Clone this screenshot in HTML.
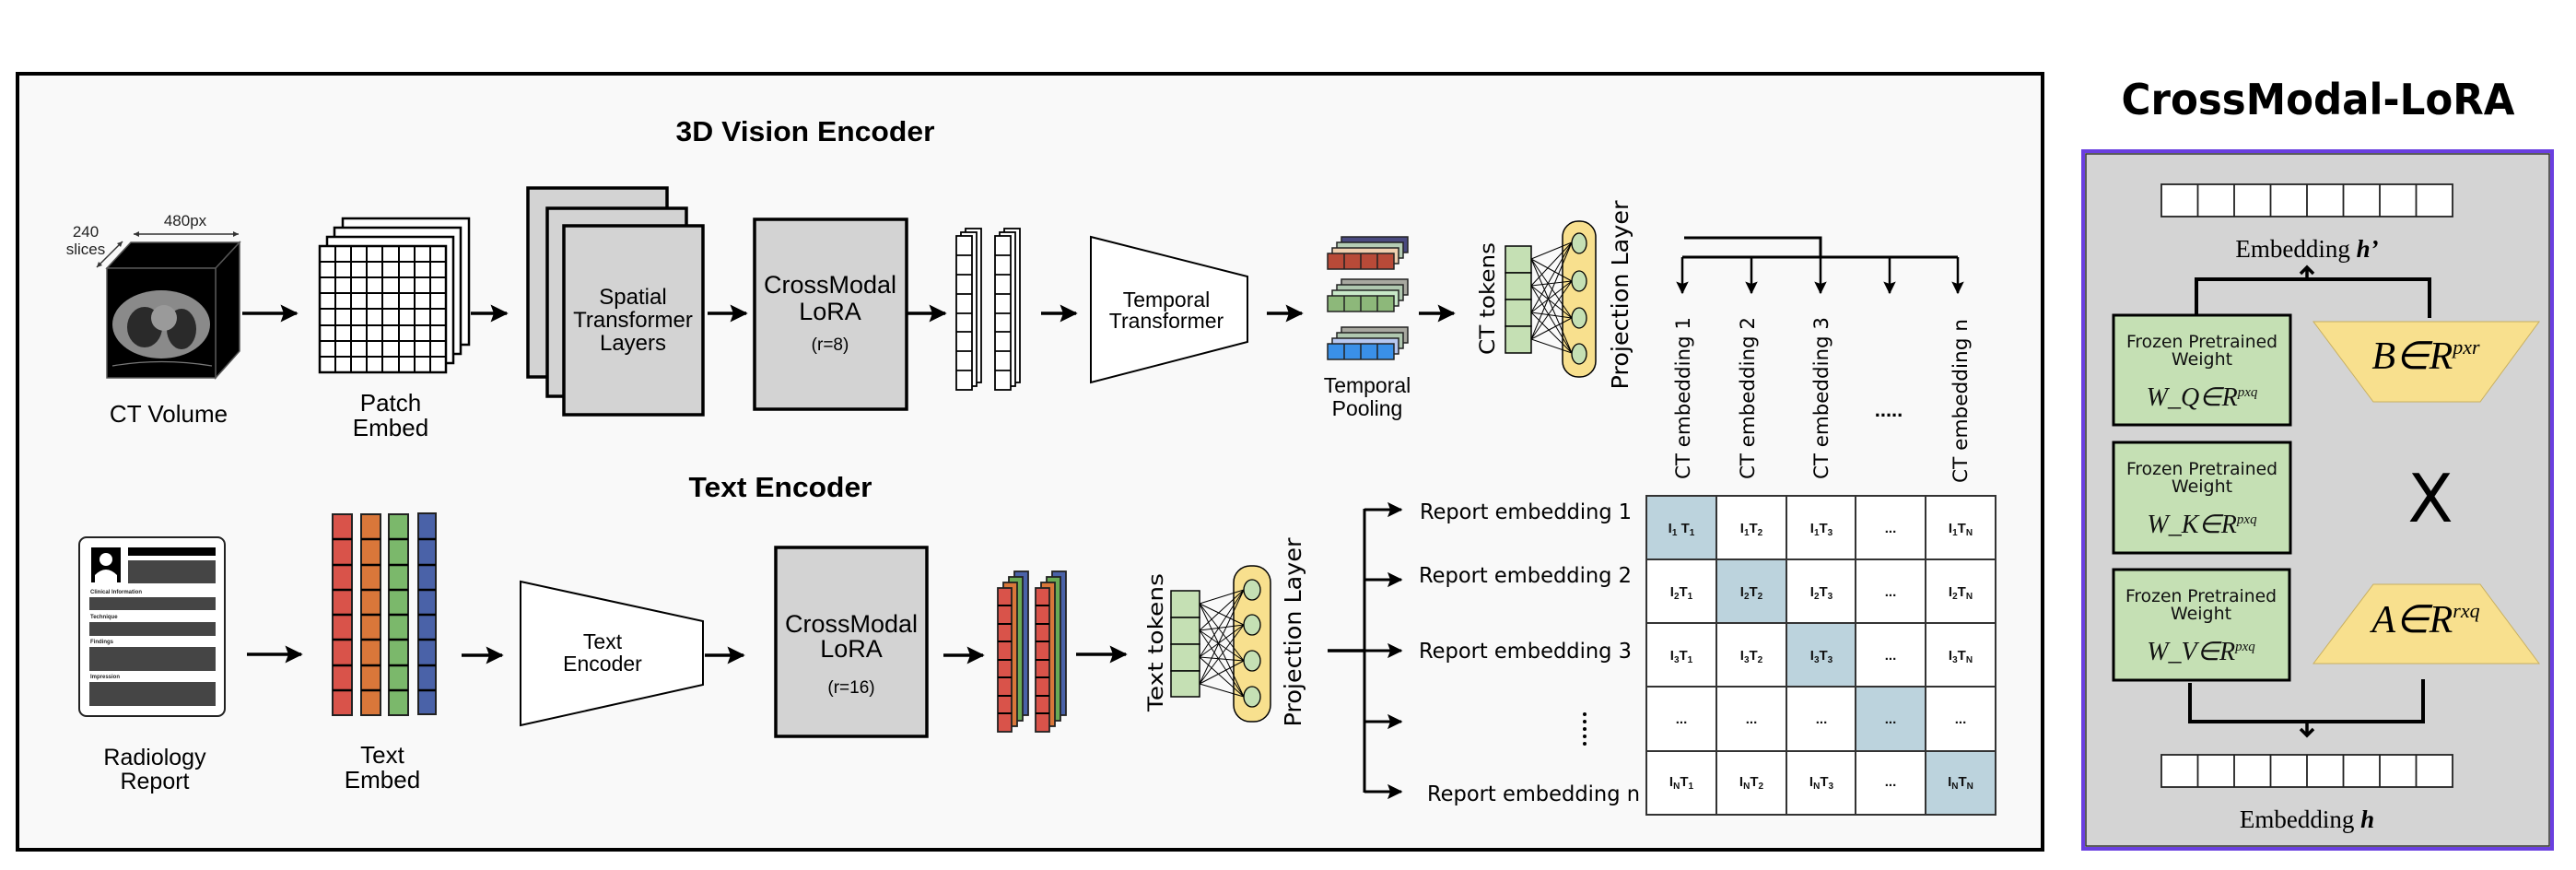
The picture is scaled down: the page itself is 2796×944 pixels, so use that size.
<!DOCTYPE html>
<html><head><meta charset="utf-8"><style>
html,body{margin:0;padding:0;background:#fff;}
svg{display:block;}
</style></head><body>
<svg width="2796" height="944" viewBox="0 0 2796 944" xmlns="http://www.w3.org/2000/svg" font-family="'Liberation Sans', sans-serif">
<defs>
<marker id="ah" markerWidth="6" markerHeight="6" refX="5" refY="3" orient="auto" markerUnits="strokeWidth">
<path d="M0,0.3 L5.5,3 L0,5.7 L1,3 Z" fill="#000"/></marker>
</defs>
<rect width="2796" height="944" fill="#fff"/>
<!-- main box -->
<rect x="19" y="80" width="2198" height="842" fill="#f9f9f9" stroke="#000" stroke-width="4"/>
<text x="874" y="153" font-size="31" font-weight="bold" text-anchor="middle" textLength="281" lengthAdjust="spacingAndGlyphs">3D Vision Encoder</text>
<text x="847" y="539" font-size="31" font-weight="bold" text-anchor="middle" textLength="199" lengthAdjust="spacingAndGlyphs">Text Encoder</text>

<!-- CT volume -->
<text x="201" y="245" font-size="17" text-anchor="middle" fill="#222">480px</text>
<text x="93" y="257" font-size="17" text-anchor="middle" fill="#222">240</text>
<text x="93" y="276" font-size="17" text-anchor="middle" fill="#222">slices</text>
<line x1="145" y1="254" x2="259" y2="254" stroke="#333" stroke-width="1.5"/>
<path d="M145,254 l6,-3 v6z M259,254 l-6,-3 v6z" fill="#333"/>
<line x1="133" y1="262" x2="105" y2="290" stroke="#333" stroke-width="1.5"/>
<path d="M133,262 l-2,6 l-4,-4z M105,290 l2,-6 l4,4z" fill="#333"/>
<polygon points="116,291 142,263 260,263 234,291" fill="#000" stroke="#555" stroke-width="1.5"/>
<polygon points="234,291 260,263 260,381 234,410" fill="#000" stroke="#555" stroke-width="1.5"/>
<rect x="116" y="291" width="118" height="119" fill="#000" stroke="#555" stroke-width="1.5"/>
<ellipse cx="175" cy="352" rx="53" ry="37" fill="#8a8a8a"/>
<ellipse cx="157" cy="355" rx="19" ry="22" fill="#2a2a2a"/>
<ellipse cx="197" cy="357" rx="16" ry="22" fill="#2a2a2a"/>
<ellipse cx="178" cy="345" rx="14" ry="14" fill="#9a9a9a"/>
<path d="M122,397 Q175,388 230,397" stroke="#777" fill="none" stroke-width="1.2"/>
<text x="183" y="458" font-size="26" text-anchor="middle">CT Volume</text>
<line x1="263" y1="340" x2="322" y2="340" stroke="#000" stroke-width="3.5" marker-end="url(#ah)"/>

<!-- Patch embed -->
<g stroke="#000" stroke-width="2.5" fill="#fff">
<rect x="372" y="237" width="137" height="137"/>
<rect x="363" y="247" width="137" height="137"/>
<rect x="355" y="257" width="137" height="137"/>
<rect x="347" y="267" width="137" height="137"/>
</g>
<g stroke="#000" stroke-width="2">
<line x1="364" y1="267" x2="364" y2="404"/><line x1="381" y1="267" x2="381" y2="404"/><line x1="398" y1="267" x2="398" y2="404"/><line x1="415" y1="267" x2="415" y2="404"/><line x1="433" y1="267" x2="433" y2="404"/><line x1="450" y1="267" x2="450" y2="404"/><line x1="467" y1="267" x2="467" y2="404"/>
<line x1="347" y1="284" x2="484" y2="284"/><line x1="347" y1="301" x2="484" y2="301"/><line x1="347" y1="318" x2="484" y2="318"/><line x1="347" y1="335" x2="484" y2="335"/><line x1="347" y1="353" x2="484" y2="353"/><line x1="347" y1="370" x2="484" y2="370"/><line x1="347" y1="387" x2="484" y2="387"/>
</g>
<text x="424" y="446" font-size="26" text-anchor="middle">Patch</text>
<text x="424" y="473" font-size="26" text-anchor="middle">Embed</text>
<line x1="511" y1="340" x2="550" y2="340" stroke="#000" stroke-width="3.5" marker-end="url(#ah)"/>

<!-- Spatial transformer -->
<g stroke="#000" stroke-width="3.5" fill="#d3d3d3">
<rect x="573" y="204" width="151" height="205"/>
<rect x="594" y="226" width="151" height="204"/>
<rect x="612" y="245" width="151" height="205"/>
</g>
<text x="687" y="330" font-size="24" text-anchor="middle">Spatial</text>
<text x="687" y="355" font-size="24" text-anchor="middle">Transformer</text>
<text x="687" y="380" font-size="24" text-anchor="middle">Layers</text>
<line x1="768" y1="340" x2="810" y2="340" stroke="#000" stroke-width="3.5" marker-end="url(#ah)"/>

<rect x="819" y="238" width="165" height="206" fill="#d3d3d3" stroke="#000" stroke-width="3.5"/>
<text x="901" y="318" font-size="27" text-anchor="middle">CrossModal</text>
<text x="901" y="347" font-size="27" text-anchor="middle">LoRA</text>
<text x="901" y="380" font-size="19" text-anchor="middle">(r=8)</text>
<line x1="984" y1="340" x2="1026" y2="340" stroke="#000" stroke-width="3.5" marker-end="url(#ah)"/>

<!-- stacked white columns -->
<g stroke="#000" stroke-width="1.8" fill="#fff">
<rect x="1048" y="248" width="17" height="167"/><rect x="1043" y="252" width="17" height="167"/>
<rect x="1038" y="256" width="17" height="167"/>
<rect x="1090" y="248" width="17" height="167"/><rect x="1085" y="252" width="17" height="167"/>
<rect x="1080" y="256" width="17" height="167"/>
</g>
<g stroke="#000" stroke-width="1.8">
<path d="M1038,277h17M1038,298h17M1038,319h17M1038,340h17M1038,360h17M1038,381h17M1038,402h17"/>
<path d="M1080,277h17M1080,298h17M1080,319h17M1080,340h17M1080,360h17M1080,381h17M1080,402h17"/>
</g>
<line x1="1130" y1="340" x2="1168" y2="340" stroke="#000" stroke-width="3.5" marker-end="url(#ah)"/>

<!-- Temporal transformer -->
<polygon points="1184,257 1354,300 1354,371 1184,415" fill="#fff" stroke="#000" stroke-width="2"/>
<text x="1266" y="333" font-size="23" text-anchor="middle">Temporal</text>
<text x="1266" y="356" font-size="23" text-anchor="middle">Transformer</text>
<line x1="1375" y1="340" x2="1413" y2="340" stroke="#000" stroke-width="3.5" marker-end="url(#ah)"/>

<!-- temporal pooling -->
<g stroke="#222" stroke-width="1.5">
<rect x="1456" y="257" width="72" height="17" fill="#4a4a80"/>
<rect x="1451" y="263" width="72" height="17" fill="#b5cdb5"/>
<rect x="1446" y="269" width="72" height="17" fill="#f0cfb0"/>
<rect x="1441" y="275" width="72" height="17" fill="#b84a38"/>
<rect x="1456" y="303" width="72" height="17" fill="#a8a8a0"/>
<rect x="1451" y="309" width="72" height="17" fill="#b0c8b0"/>
<rect x="1446" y="315" width="72" height="17" fill="#c8e8c8"/>
<rect x="1441" y="321" width="72" height="17" fill="#8db87a"/>
<rect x="1456" y="355" width="72" height="17" fill="#a8a8a0"/>
<rect x="1451" y="361" width="72" height="17" fill="#b0c8b0"/>
<rect x="1446" y="367" width="72" height="17" fill="#b8c8f0"/>
<rect x="1441" y="373" width="72" height="17" fill="#3a90e8"/>
<path d="M1459,275v17M1477,275v17M1495,275v17M1459,321v17M1477,321v17M1495,321v17M1459,373v17M1477,373v17M1495,373v17"/>
</g>
<text x="1484" y="426" font-size="23" text-anchor="middle">Temporal</text>
<text x="1484" y="451" font-size="23" text-anchor="middle">Pooling</text>
<line x1="1540" y1="340" x2="1578" y2="340" stroke="#000" stroke-width="3.5" marker-end="url(#ah)"/>

<!-- CT tokens / projection -->
<text transform="translate(1622,324) rotate(-90)" font-size="22" text-anchor="middle" font-family="'DejaVu Sans', sans-serif" textLength="122" lengthAdjust="spacingAndGlyphs">CT tokens</text>
<g stroke="#000" stroke-width="1.5" fill="#c5e0b4">
<rect x="1634" y="267" width="28" height="29"/><rect x="1634" y="296" width="28" height="29"/><rect x="1634" y="325" width="28" height="29"/><rect x="1634" y="354" width="28" height="29"/>
</g>
<rect x="1696" y="240" width="36" height="169" rx="17" fill="#f8e08e" stroke="#000" stroke-width="1.5"/>
<g stroke="#000" stroke-width="1">
<path d="M1662,281L1706,263M1662,281L1706,305M1662,281L1706,345M1662,281L1706,383M1662,310L1706,263M1662,310L1706,305M1662,310L1706,345M1662,310L1706,383M1662,339L1706,263M1662,339L1706,305M1662,339L1706,345M1662,339L1706,383M1662,368L1706,263M1662,368L1706,305M1662,368L1706,345M1662,368L1706,383"/>
</g>
<g stroke="#000" stroke-width="1.3" fill="#c5e0b4">
<ellipse cx="1714" cy="264" rx="8" ry="11"/><ellipse cx="1714" cy="305" rx="8" ry="11"/><ellipse cx="1714" cy="345" rx="8" ry="11"/><ellipse cx="1714" cy="384" rx="8" ry="11"/>
</g>
<text transform="translate(1767,320) rotate(-90)" font-size="25" text-anchor="middle" font-family="'DejaVu Sans', sans-serif" textLength="205" lengthAdjust="spacingAndGlyphs">Projection Layer</text>

<!-- CT embedding branches -->
<g stroke="#000" stroke-width="3" fill="none">
<path d="M1828,258H1976V279"/>
<path d="M1826,279H2125"/>
</g>
<g stroke="#000" stroke-width="2.5">
<line x1="1826" y1="279" x2="1826" y2="318" marker-end="url(#ah)"/>
<line x1="1901" y1="279" x2="1901" y2="318" marker-end="url(#ah)"/>
<line x1="1976" y1="279" x2="1976" y2="318" marker-end="url(#ah)"/>
<line x1="2051" y1="279" x2="2051" y2="318" marker-end="url(#ah)"/>
<line x1="2125" y1="279" x2="2125" y2="318" marker-end="url(#ah)"/>
</g>
<g font-size="21" font-family="'DejaVu Sans', sans-serif">
<text transform="translate(1834,520) rotate(-90)" textLength="176" lengthAdjust="spacingAndGlyphs">CT embedding 1</text>
<text transform="translate(1904,520) rotate(-90)" textLength="176" lengthAdjust="spacingAndGlyphs">CT embedding 2</text>
<text transform="translate(1984,520) rotate(-90)" textLength="176" lengthAdjust="spacingAndGlyphs">CT embedding 3</text>
<text transform="translate(2135,524) rotate(-90)" textLength="178" lengthAdjust="spacingAndGlyphs">CT embedding n</text>
</g>
<text x="2050" y="452" font-size="22" font-weight="bold" text-anchor="middle">.....</text>

<!-- Radiology report -->
<rect x="86" y="583" width="158" height="194" rx="8" fill="#fff" stroke="#222" stroke-width="2"/>
<rect x="99" y="594" width="32" height="38" fill="#000"/>
<circle cx="115" cy="607" r="7" fill="#fff"/>
<path d="M103,632 v-8 q12,-12 24,0 v8z" fill="#fff"/>
<rect x="139" y="594" width="95" height="9" fill="#000"/>
<g fill="#454545">
<rect x="139" y="608" width="95" height="25"/>
<rect x="97" y="648" width="137" height="14"/>
<rect x="97" y="675" width="137" height="15"/>
<rect x="97" y="702" width="137" height="26"/>
<rect x="97" y="740" width="137" height="26"/>
</g>
<g font-size="6" font-weight="bold" fill="#222">
<text x="98" y="644">Clinical Information</text><text x="98" y="671">Technique</text><text x="98" y="698">Findings</text><text x="98" y="736">Impression</text>
</g>
<text x="168" y="830" font-size="25" text-anchor="middle">Radiology</text>
<text x="168" y="856" font-size="25" text-anchor="middle">Report</text>
<line x1="268" y1="710" x2="327" y2="710" stroke="#000" stroke-width="3.5" marker-end="url(#ah)"/>

<!-- Text embed -->
<g stroke="#222" stroke-width="2">
<rect x="361" y="558" width="21" height="218" fill="#d9534a"/>
<rect x="392" y="558" width="21" height="218" fill="#d9773a"/>
<rect x="422" y="558" width="21" height="218" fill="#7bb86b"/>
<rect x="454" y="557" width="19" height="218" fill="#4a62a8"/>
</g>
<g stroke="#000" stroke-width="2.5">
<path d="M361,585h21M361,613h21M361,640h21M361,667h21M361,694h21M361,722h21M361,749h21"/>
<path d="M392,585h21M392,613h21M392,640h21M392,667h21M392,694h21M392,722h21M392,749h21"/>
<path d="M422,585h21M422,613h21M422,640h21M422,667h21M422,694h21M422,722h21M422,749h21"/>
<path d="M454,585h19M454,613h19M454,640h19M454,667h19M454,694h19M454,722h19M454,749h19"/>
</g>
<text x="415" y="828" font-size="26" text-anchor="middle">Text</text>
<text x="415" y="855" font-size="26" text-anchor="middle">Embed</text>
<line x1="501" y1="711" x2="545" y2="711" stroke="#000" stroke-width="3.5" marker-end="url(#ah)"/>
<polygon points="565,631 763,674 763,743 565,787" fill="#fff" stroke="#000" stroke-width="2"/>
<text x="654" y="704" font-size="23" text-anchor="middle">Text</text>
<text x="654" y="728" font-size="23" text-anchor="middle">Encoder</text>
<line x1="765" y1="711" x2="807" y2="711" stroke="#000" stroke-width="3.5" marker-end="url(#ah)"/>
<rect x="842" y="594" width="164" height="205" fill="#d3d3d3" stroke="#000" stroke-width="3.5"/>
<text x="924" y="686" font-size="27" text-anchor="middle">CrossModal</text>
<text x="924" y="713" font-size="27" text-anchor="middle">LoRA</text>
<text x="924" y="752" font-size="19" text-anchor="middle">(r=16)</text>
<line x1="1024" y1="711" x2="1067" y2="711" stroke="#000" stroke-width="3.5" marker-end="url(#ah)"/>

<!-- RGB stacked columns -->
<g stroke="#222" stroke-width="1.8">
<rect x="1101" y="620" width="15" height="156" fill="#4a62a8"/>
<rect x="1095" y="626" width="15" height="156" fill="#6aaa55"/>
<rect x="1089" y="632" width="15" height="156" fill="#d9773a"/>
<rect x="1083" y="638" width="15" height="156" fill="#d9534a"/>
<rect x="1142" y="620" width="15" height="156" fill="#4a62a8"/>
<rect x="1136" y="626" width="15" height="156" fill="#6aaa55"/>
<rect x="1130" y="632" width="15" height="156" fill="#d9773a"/>
<rect x="1124" y="638" width="15" height="156" fill="#d9534a"/>
</g>
<g stroke="#000" stroke-width="2">
<path d="M1083,657h15M1083,677h15M1083,696h15M1083,716h15M1083,735h15M1083,755h15M1083,774h15"/>
<path d="M1124,657h15M1124,677h15M1124,696h15M1124,716h15M1124,735h15M1124,755h15M1124,774h15"/>
</g>
<line x1="1168" y1="710" x2="1222" y2="710" stroke="#000" stroke-width="3.5" marker-end="url(#ah)"/>

<!-- Text tokens / projection -->
<text transform="translate(1262,697) rotate(-90)" font-size="22" text-anchor="middle" font-family="'DejaVu Sans', sans-serif" textLength="150" lengthAdjust="spacingAndGlyphs">Text tokens</text>
<g stroke="#000" stroke-width="1.5" fill="#c5e0b4">
<rect x="1271" y="641" width="31" height="29"/><rect x="1271" y="670" width="31" height="29"/><rect x="1271" y="699" width="31" height="29"/><rect x="1271" y="728" width="31" height="28"/>
</g>
<rect x="1339" y="614" width="40" height="169" rx="18" fill="#f8e08e" stroke="#000" stroke-width="1.5"/>
<g stroke="#000" stroke-width="1">
<path d="M1302,655L1350,640M1302,655L1350,678M1302,655L1350,717M1302,655L1350,756M1302,684L1350,640M1302,684L1350,678M1302,684L1350,717M1302,684L1350,756M1302,713L1350,640M1302,713L1350,678M1302,713L1350,717M1302,713L1350,756M1302,742L1350,640M1302,742L1350,678M1302,742L1350,717M1302,742L1350,756"/>
</g>
<g stroke="#000" stroke-width="1.3" fill="#c5e0b4">
<ellipse cx="1359" cy="640" rx="9" ry="11"/><ellipse cx="1359" cy="678" rx="9" ry="11"/><ellipse cx="1359" cy="717" rx="9" ry="11"/><ellipse cx="1359" cy="756" rx="9" ry="11"/>
</g>
<text transform="translate(1412,686) rotate(-90)" font-size="25" text-anchor="middle" font-family="'DejaVu Sans', sans-serif" textLength="205" lengthAdjust="spacingAndGlyphs">Projection Layer</text>

<!-- report branches -->
<line x1="1441" y1="706" x2="1481" y2="706" stroke="#000" stroke-width="3.5"/>
<line x1="1481" y1="552" x2="1481" y2="860" stroke="#000" stroke-width="3"/>
<g stroke="#000" stroke-width="3">
<line x1="1481" y1="553" x2="1521" y2="553" marker-end="url(#ah)"/>
<line x1="1481" y1="629" x2="1521" y2="629" marker-end="url(#ah)"/>
<line x1="1481" y1="706" x2="1521" y2="706" marker-end="url(#ah)"/>
<line x1="1481" y1="783" x2="1521" y2="783" marker-end="url(#ah)"/>
<line x1="1481" y1="859" x2="1521" y2="859" marker-end="url(#ah)"/>
</g>
<g font-size="23" font-family="'DejaVu Sans', sans-serif">
<text x="1541" y="563" textLength="230" lengthAdjust="spacingAndGlyphs">Report embedding 1</text>
<text x="1540" y="632" textLength="231" lengthAdjust="spacingAndGlyphs">Report embedding 2</text>
<text x="1540" y="714" textLength="231" lengthAdjust="spacingAndGlyphs">Report embedding 3</text>
<text x="1549" y="869" textLength="231" lengthAdjust="spacingAndGlyphs">Report embedding n</text>
</g>
<g fill="#000"><circle cx="1720" cy="775" r="2"/><circle cx="1720" cy="783" r="2"/><circle cx="1720" cy="791" r="2"/><circle cx="1720" cy="799" r="2"/><circle cx="1720" cy="807" r="2"/></g>

<!-- similarity matrix -->
<rect x="1787" y="538" width="379" height="346" fill="#fff"/>
<g fill="#bcd3dd">
<rect x="1787" y="538" width="76" height="69"/>
<rect x="1863" y="607" width="76" height="69"/>
<rect x="1939" y="676" width="75" height="69"/>
<rect x="2014" y="745" width="76" height="70"/>
<rect x="2090" y="815" width="76" height="69"/>
</g>
<g stroke="#333" stroke-width="2" fill="none">
<rect x="1787" y="538" width="379" height="346"/>
<path d="M1863,538v346M1939,538v346M2014,538v346M2090,538v346M1787,607h379M1787,676h379M1787,745h379M1787,815h379"/>
</g>
<g font-size="15" font-weight="bold" text-anchor="middle" fill="#111">
<text x="1825" y="578">I<tspan font-size="10" dy="3">1</tspan><tspan dy="-3"> T</tspan><tspan font-size="10" dy="3">1</tspan></text>
<text x="1901" y="578">I<tspan font-size="10" dy="3">1</tspan><tspan dy="-3">T</tspan><tspan font-size="10" dy="3">2</tspan></text>
<text x="1977" y="578">I<tspan font-size="10" dy="3">1</tspan><tspan dy="-3">T</tspan><tspan font-size="10" dy="3">3</tspan></text>
<text x="2052" y="578">...</text>
<text x="2128" y="578">I<tspan font-size="10" dy="3">1</tspan><tspan dy="-3">T</tspan><tspan font-size="10" dy="3">N</tspan></text>
<text x="1825" y="647">I<tspan font-size="10" dy="3">2</tspan><tspan dy="-3">T</tspan><tspan font-size="10" dy="3">1</tspan></text>
<text x="1901" y="647">I<tspan font-size="10" dy="3">2</tspan><tspan dy="-3">T</tspan><tspan font-size="10" dy="3">2</tspan></text>
<text x="1977" y="647">I<tspan font-size="10" dy="3">2</tspan><tspan dy="-3">T</tspan><tspan font-size="10" dy="3">3</tspan></text>
<text x="2052" y="647">...</text>
<text x="2128" y="647">I<tspan font-size="10" dy="3">2</tspan><tspan dy="-3">T</tspan><tspan font-size="10" dy="3">N</tspan></text>
<text x="1825" y="716">I<tspan font-size="10" dy="3">3</tspan><tspan dy="-3">T</tspan><tspan font-size="10" dy="3">1</tspan></text>
<text x="1901" y="716">I<tspan font-size="10" dy="3">3</tspan><tspan dy="-3">T</tspan><tspan font-size="10" dy="3">2</tspan></text>
<text x="1977" y="716">I<tspan font-size="10" dy="3">3</tspan><tspan dy="-3">T</tspan><tspan font-size="10" dy="3">3</tspan></text>
<text x="2052" y="716">...</text>
<text x="2128" y="716">I<tspan font-size="10" dy="3">3</tspan><tspan dy="-3">T</tspan><tspan font-size="10" dy="3">N</tspan></text>
<text x="1825" y="785">...</text><text x="1901" y="785">...</text><text x="1977" y="785">...</text><text x="2052" y="785">...</text><text x="2128" y="785">...</text>
<text x="1825" y="853">I<tspan font-size="10" dy="3">N</tspan><tspan dy="-3">T</tspan><tspan font-size="10" dy="3">1</tspan></text>
<text x="1901" y="853">I<tspan font-size="10" dy="3">N</tspan><tspan dy="-3">T</tspan><tspan font-size="10" dy="3">2</tspan></text>
<text x="1977" y="853">I<tspan font-size="10" dy="3">N</tspan><tspan dy="-3">T</tspan><tspan font-size="10" dy="3">3</tspan></text>
<text x="2052" y="853">...</text>
<text x="2128" y="853">I<tspan font-size="10" dy="3">N</tspan><tspan dy="-3">T</tspan><tspan font-size="10" dy="3">N</tspan></text>
</g>

<!-- CrossModal-LoRA panel -->
<text x="2516" y="124" font-size="46" font-weight="bold" text-anchor="middle" font-family="'DejaVu Sans', sans-serif" textLength="427" lengthAdjust="spacingAndGlyphs">CrossModal-LoRA</text>
<rect x="2261" y="164" width="509" height="757" fill="#d4d4d4" stroke="#6a3fe0" stroke-width="4"/>
<rect x="2264" y="167" width="503" height="751" fill="none" stroke="#333" stroke-width="1.5"/>
<g stroke="#222" stroke-width="1.8" fill="#fff">
<rect x="2346" y="200" width="316" height="35"/>
<path d="M2385.5,200v35M2425,200v35M2464.5,200v35M2504,200v35M2543.5,200v35M2583,200v35M2622.5,200v35"/>
<rect x="2346" y="819" width="316" height="35"/>
<path d="M2385.5,819v35M2425,819v35M2464.5,819v35M2504,819v35M2543.5,819v35M2583,819v35M2622.5,819v35"/>
</g>
<text x="2504" y="279" font-size="27" text-anchor="middle" font-family="'Liberation Serif', serif">Embedding <tspan font-style="italic" font-weight="bold">h’</tspan></text>
<text x="2504" y="898" font-size="27" text-anchor="middle" font-family="'Liberation Serif', serif">Embedding <tspan font-style="italic" font-weight="bold">h</tspan></text>
<g stroke="#000" stroke-width="4" fill="none">
<path d="M2384,343V303H2637V345"/>
<path d="M2377,741V783H2630V737"/>
</g>
<path d="M2504,303V292 M2497,297 L2504,290 L2511,297" stroke="#000" stroke-width="3.5" fill="none"/>
<path d="M2504,783V796 M2497,791 L2504,798 L2511,791" stroke="#000" stroke-width="3.5" fill="none"/>
<g fill="#c5e0b4" stroke="#000" stroke-width="3">
<rect x="2294" y="342" width="192" height="119"/>
<rect x="2294" y="480" width="192" height="120"/>
<rect x="2294" y="618" width="191" height="120"/>
</g>
<g font-size="19" text-anchor="middle" font-family="'DejaVu Sans', sans-serif" fill="#111">
<text x="2390" y="377" textLength="164" lengthAdjust="spacingAndGlyphs">Frozen Pretrained</text><text x="2390" y="396">Weight</text>
<text x="2390" y="515" textLength="164" lengthAdjust="spacingAndGlyphs">Frozen Pretrained</text><text x="2390" y="534">Weight</text>
<text x="2389" y="653" textLength="164" lengthAdjust="spacingAndGlyphs">Frozen Pretrained</text><text x="2389" y="672">Weight</text>
</g>
<g font-size="28" font-style="italic" text-anchor="middle" font-family="'Liberation Serif', serif" fill="#111">
<text x="2390" y="440">W_Q∈R<tspan font-size="15" dy="-10">pxq</tspan></text>
<text x="2390" y="578">W_K∈R<tspan font-size="15" dy="-10">pxq</tspan></text>
<text x="2389" y="716">W_V∈R<tspan font-size="15" dy="-10">pxq</tspan></text>
</g>
<polygon points="2511,349 2756,349 2692,436 2576,436" fill="#f8e08e" stroke="#c9b060" stroke-width="1"/>
<polygon points="2576,634 2692,634 2756,720 2511,720" fill="#f8e08e" stroke="#c9b060" stroke-width="1"/>
<g font-size="42" font-style="italic" text-anchor="middle" font-family="'Liberation Serif', serif">
<text x="2633" y="400">B∈R<tspan font-size="22" dy="-16">pxr</tspan></text>
<text x="2633" y="686">A∈R<tspan font-size="22" dy="-16">rxq</tspan></text>
</g>
<text x="2638" y="566" font-size="72" text-anchor="middle" font-family="'DejaVu Sans', sans-serif">X</text>
</svg>
</body></html>
